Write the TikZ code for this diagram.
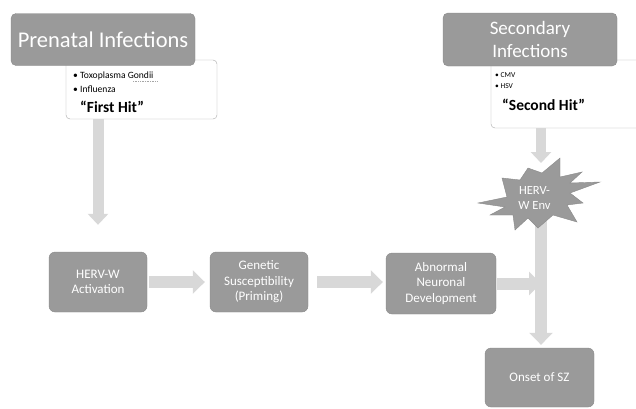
\documentclass[tikz,border=0pt]{standalone}
\usepackage{fontspec}
\setmainfont{Carlito}
\usetikzlibrary{arrows.meta}
\definecolor{boxgray}{HTML}{9A9A9A}
\definecolor{boxedge}{HTML}{8A8A8A}
\definecolor{arrowgray}{HTML}{D8D8D8}
\definecolor{framegray}{HTML}{A8A8A8}
\begin{document}
\begin{tikzpicture}[x=1pt,y=-1pt,
  graybox/.style={draw=boxedge, fill=boxgray, rounded corners=6pt, text=white, align=center,
    font=\fontsize{13}{15.5}\selectfont, inner sep=0pt},
  titlebox/.style={graybox, rounded corners=5pt, font=\fontsize{22.5}{26}\selectfont},
  whitebox/.style={draw=framegray, fill=white, rounded corners=4pt, inner sep=0pt},
  bullets/.style={anchor=west, align=left, font=\fontsize{9.6}{13.5}\selectfont, inner sep=0pt},
  hit/.style={anchor=west, font=\bfseries\fontsize{15.5}{18}\selectfont, inner sep=0pt},
  flow/.style={arrowgray, line width=12pt, -{Triangle[length=12pt,width=23pt]}},
  thinflow/.style={arrowgray, line width=10pt, -{Triangle[length=11pt,width=20pt]}}
]
\clip (0,0) rectangle (636,408);
\fill[white] (0,0) rectangle (636,408);

% white detail boxes
\node[whitebox, minimum width=151pt, minimum height=59pt] (pw) at (141.5,89.5) {};
\node[whitebox, minimum width=160pt, minimum height=68pt] (sw) at (571,94) {};

% title boxes
\node[titlebox, minimum width=184pt, minimum height=52pt] (pre) at (103,39.5) {Prenatal Infections};
\node[titlebox, minimum width=174pt, minimum height=53pt, font=\fontsize{19}{22.5}\selectfont] (sec) at (530,39.5) {Secondary\\Infections};

% texts in the detail boxes
\node[bullets] (pb) at (73,82) {• Toxoplasma Gondii\\• Influenza};
\draw[densely dotted, gray!70, line width=0.7pt] (133,81) -- (158,81);
\node[hit] (ph) at (80,106.5) {“First Hit”};
\node[bullets, font=\fontsize{7.5}{10.5}\selectfont] (sb) at (495,80.5) {• CMV\\• HSV};
\node[hit] (sh) at (502,104.5) {“Second Hit”};

% process boxes
\node[graybox, minimum width=98pt, minimum height=60pt] (herv) at (98,282) {HERV-W\\Activation};
\node[graybox, minimum width=98pt, minimum height=60pt] (gen) at (259,282) {Genetic\\Susceptibility\\(Priming)};
\node[graybox, minimum width=110pt, minimum height=61pt] (abn) at (441,283.5) {Abnormal\\Neuronal\\Development};
\node[graybox, minimum width=109pt, minimum height=59pt] (onset) at (539.5,377.5) {Onset of SZ};

% star geometry anchor points
\coordinate (starc) at (541,195);
\coordinate (join) at (541,283);

% connectors
\draw[thinflow, line width=11pt] (pw.south -| herv) -- ([yshift=27pt]herv.north);
\draw[thinflow] (sw.south -| starc) -- ([yshift=32pt]starc);
\draw[flow] (starc) -- ([yshift=3pt]onset.north -| starc);
\draw[flow] (herv.east) ++(2,0) -- ([xshift=-5pt]gen.west);
\draw[flow, shorten <=9pt] (gen.east) -- ([xshift=-3pt]abn.west |- gen.east);
\draw[flow, shorten <=1pt] (abn.east) -- (join |- abn.east);

% starburst
\draw[fill=boxgray, draw=boxedge, line join=miter]
  (478,203) -- (507,197) -- (502,178) -- (520,180) -- (528,168) -- (542,173)
  -- (560,158) -- (560,177) -- (582,172) -- (570,183) -- (600,182) -- (570,193)
  -- (583,203) -- (567,205) -- (577,222) -- (553,215) -- (538,228) -- (528,218)
  -- (515,230) -- (513,215) -- (490,215) -- (505,207) -- cycle;
\node[text=white, align=center, font=\fontsize{12.5}{15}\selectfont, inner sep=0pt] (star) at (534.5,197.5) {HERV-\\W Env};
\end{tikzpicture}
\end{document}
